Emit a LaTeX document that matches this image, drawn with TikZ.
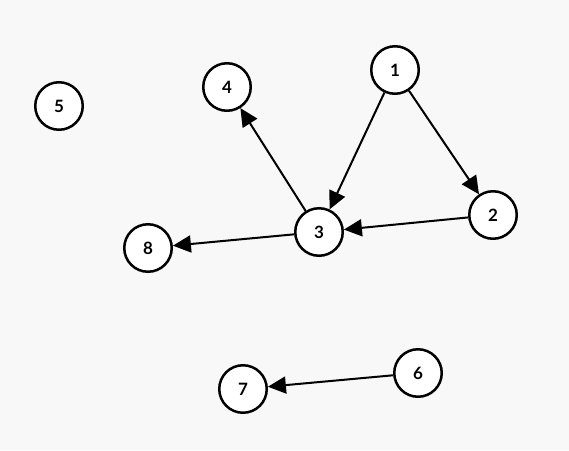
\documentclass[tikz,border=0pt]{standalone}
\usepackage{fontspec}
\setmainfont{Lato}
\usetikzlibrary{arrows.meta}

\definecolor{bgcol}{HTML}{F8F8F8}

\begin{document}
\begin{tikzpicture}[
    x=1pt, y=-1pt,
    vertex/.style = {circle, draw=black, line width=2.5pt, fill=white, minimum size=47.5pt, inner sep=0pt, font=\fontsize{17}{17}\selectfont\bfseries},
    line/.style = {draw=black, line width=2pt, -{Triangle[length=18pt, width=17pt]}}
]
    % background
    \fill [bgcol] (0,0) rectangle (569,450);
    \useasboundingbox (0,0) rectangle (569,450);

    % Nodes
    \node [vertex] (n1) at (395, 70) {1};
    \node [vertex] (n2) at (493, 215) {2};
    \node [vertex] (n3) at (319, 232) {3};
    \node [vertex] (n4) at (227, 87) {4};
    \node [vertex] (n5) at (59, 106) {5};
    \node [vertex] (n6) at (418, 373) {6};
    \node [vertex] (n7) at (243, 389) {7};
    \node [vertex] (n8) at (148, 248) {8};

    % Arrows
    \draw [line] (n1) -- (n3);
    \draw [line] (n1) -- (n2);
    \draw [line] (n2) -- (n3);
    \draw [line] (n3) -- (n4);
    \draw [line] (n3) -- (n8);
    \draw [line] (n6) -- (n7);
\end{tikzpicture}
\end{document}
